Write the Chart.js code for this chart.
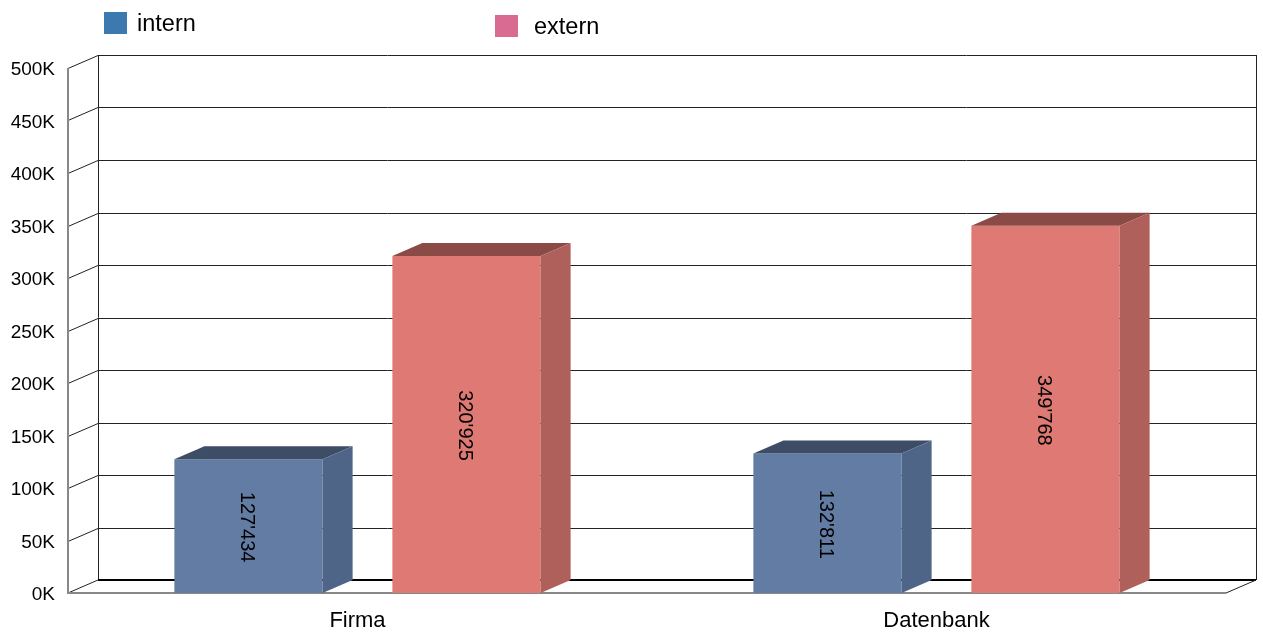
<!DOCTYPE html>
<html>
<head>
<meta charset="utf-8">
<script src="https://cdn.jsdelivr.net/npm/chart.js@4/dist/chart.umd.min.js"></script>
<style>
html, body { margin: 0; padding: 0; background: #fff; }
#wrap { width: 1263px; height: 633px; }
</style>
</head>
<body>
<div id="wrap"><canvas id="chart"></canvas></div>
<script>
// data
const categories = ['Firma', 'Datenbank'];
const seriesNames = ['intern', 'extern'];
const internValues = [127434, 132811];
const externValues = [320925, 349768];
const yMax = 500000;
const yStep = 50000;

// 3d depth of the box
const DX = 30, DY = 13;
const FONT = "'Liberation Sans', Arial, sans-serif";

const faceColors = [
    { front: '#637ca4', side: '#4f6588', top: '#3e4d66', legend: '#3c79ae' },
    { front: '#df7973', side: '#b0605b', top: '#8a4a46', legend: '#d96b93' }
];
const legendSpots = [{ x: 104, y: 12, tx: 137 }, { x: 495, y: 15, tx: 534 }];

function fmt(v) {
    return String(v).replace(/\B(?=(\d{3})+(?!\d))/g, "'");
}

const box3d = {
    id: 'box3d',
    beforeDatasetsDraw(chart) {
        const { ctx, chartArea, scales } = chart;
        const { left, right, top, bottom } = chartArea;
        const y = scales.y;
        ctx.save();
        // back wall grid + left wall slants
        ctx.strokeStyle = '#222';
        ctx.lineWidth = 1;
        for (let v = yStep; v <= yMax; v += yStep) {
            const py = Math.round(y.getPixelForValue(v)) + 0.5;
            ctx.beginPath();
            ctx.moveTo(left + DX, py - DY);
            ctx.lineTo(right + DX, py - DY);
            ctx.moveTo(left, py);
            ctx.lineTo(left + DX, py - DY);
            ctx.stroke();
        }
        // back wall verticals
        ctx.beginPath();
        ctx.moveTo(left + DX + 0.5, top - DY);
        ctx.lineTo(left + DX + 0.5, bottom - DY);
        ctx.moveTo(right + DX + 0.5, top - DY);
        ctx.lineTo(right + DX + 0.5, bottom - DY);
        ctx.stroke();
        // floor back edge
        ctx.lineWidth = 2;
        ctx.strokeStyle = '#000';
        ctx.beginPath();
        ctx.moveTo(left + DX, bottom - DY);
        ctx.lineTo(right + DX, bottom - DY);
        ctx.stroke();
        // floor slants
        ctx.lineWidth = 1;
        ctx.strokeStyle = '#222';
        ctx.beginPath();
        ctx.moveTo(left, bottom);
        ctx.lineTo(left + DX, bottom - DY);
        ctx.moveTo(right, bottom);
        ctx.lineTo(right + DX, bottom - DY);
        ctx.stroke();
        // front axis lines
        ctx.strokeStyle = '#888';
        ctx.lineWidth = 2;
        ctx.beginPath();
        ctx.moveTo(left, top);
        ctx.lineTo(left, bottom);
        ctx.lineTo(right, bottom);
        ctx.stroke();
        ctx.restore();
    },
    afterDatasetsDraw(chart) {
        const { ctx } = chart;
        ctx.save();
        chart.data.datasets.forEach((ds, i) => {
            const meta = chart.getDatasetMeta(i);
            const c = faceColors[i];
            meta.data.forEach((bar, j) => {
                const p = bar.getProps(['x', 'y', 'base', 'width'], true);
                const x0 = p.x - p.width / 2, x1 = p.x + p.width / 2;
                // top face
                ctx.fillStyle = c.top;
                ctx.beginPath();
                ctx.moveTo(x0, p.y);
                ctx.lineTo(x0 + DX, p.y - DY);
                ctx.lineTo(x1 + DX, p.y - DY);
                ctx.lineTo(x1, p.y);
                ctx.closePath();
                ctx.fill();
                // side face
                ctx.fillStyle = c.side;
                ctx.beginPath();
                ctx.moveTo(x1, p.y);
                ctx.lineTo(x1 + DX, p.y - DY);
                ctx.lineTo(x1 + DX, p.base - DY);
                ctx.lineTo(x1, p.base);
                ctx.closePath();
                ctx.fill();
                // value label, rotated
                ctx.save();
                ctx.translate(p.x - 2, (p.y + p.base) / 2 + 1);
                ctx.rotate(Math.PI / 2);
                ctx.fillStyle = '#000';
                ctx.font = '20px ' + FONT;
                ctx.textAlign = 'center';
                ctx.textBaseline = 'middle';
                ctx.fillText(fmt(ds.data[j]), 0, 0);
                ctx.restore();
            });
        });
        ctx.restore();
    },
    afterDraw(chart) {
        const { ctx } = chart;
        ctx.save();
        ctx.font = '23.5px ' + FONT;
        ctx.textBaseline = 'middle';
        ctx.textAlign = 'left';
        chart.data.datasets.forEach((ds, i) => {
            const s = legendSpots[i];
            ctx.fillStyle = faceColors[i].legend;
            ctx.fillRect(s.x, s.y, 23, 22);
            ctx.fillStyle = '#000';
            ctx.fillText(ds.label, s.tx, s.y + 13);
        });
        ctx.restore();
    }
};

new Chart(document.getElementById('chart'), {
    type: 'bar',
    data: {
        labels: categories,
        datasets: [
            { label: seriesNames[0], data: internValues, backgroundColor: faceColors[0].front },
            { label: seriesNames[1], data: externValues, backgroundColor: faceColors[1].front }
        ]
    },
    options: {
        responsive: true,
        maintainAspectRatio: false,
        animation: false,
        categoryPercentage: 0.753,
        barPercentage: 0.68,
        layout: { padding: { left: 11, right: 37, top: 68, bottom: 0 } },
        plugins: {
            legend: { display: false },
            tooltip: { enabled: false }
        },
        scales: {
            x: {
                grid: { display: false, drawTicks: false },
                border: { display: false },
                ticks: { color: '#000', padding: 15, font: { family: FONT, size: 22 } },
                afterFit: (s) => { s.height = 40; }
            },
            y: {
                min: 0,
                max: yMax,
                grid: { display: false, drawTicks: false },
                border: { display: false },
                ticks: {
                    stepSize: yStep,
                    color: '#000',
                    padding: 13,
                    labelOffset: 2,
                    font: { family: FONT, size: 19 },
                    callback: (v) => (v / 1000) + 'K'
                },
                afterFit: (s) => { s.width = 57; }
            }
        }
    },
    plugins: [box3d]
});
</script>
</body>
</html>
